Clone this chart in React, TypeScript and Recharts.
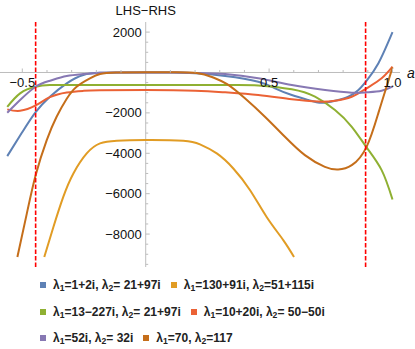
import React from 'react';
import { LineChart, Line, XAxis, YAxis, ReferenceLine, ReferenceDot } from 'recharts';

// ---- data (a, LHS-RHS) ----
const blue: number[][] = [
  [-0.561, -4140], [-0.5, -2950], [-0.446, -1960], [-0.388, -1200], [-0.32, -536], [-0.253, -124],
  [-0.185, -15], [-0.1, 0], [0, 0], [0.1, -5], [0.2, -40], [0.322, -174], [0.456, -456], [0.524, -784],
  [0.592, -1116], [0.659, -1364], [0.713, -1498], [0.767, -1398], [0.821, -1200], [0.862, -868],
  [0.895, -407], [0.943, 456], [1.0, 1994],
];
const yellow: number[][] = [
  [-0.411, -9136], [-0.374, -7650], [-0.334, -6160], [-0.293, -5000], [-0.239, -4008], [-0.185, -3512],
  [-0.117, -3382], [0, -3348], [0.152, -3382], [0.22, -3560], [0.288, -4008], [0.355, -4752],
  [0.423, -5828], [0.49, -7152], [0.558, -8308], [0.601, -9136],
];
const green: number[][] = [
  [-0.561, -1700], [-0.509, -1032], [-0.446, -704], [-0.388, -625], [-0.3, -620], [0, -620], [0.322, -620],
  [0.456, -640], [0.592, -833], [0.686, -1200], [0.767, -1860], [0.835, -2688], [0.895, -3710],
  [0.956, -4836], [1.0, -6290],
];
const red: number[][] = [
  [-0.561, -1825], [-0.509, -1895], [-0.446, -1630], [-0.388, -1220], [-0.32, -990], [-0.253, -910],
  [-0.185, -880], [0, -868], [0.2, -900], [0.322, -982], [0.456, -1116], [0.592, -1329], [0.7, -1440],
  [0.767, -1398], [0.835, -1200], [0.895, -784], [0.956, -288], [1.0, 288],
];
const purple: number[][] = [
  [-0.561, -1994], [-0.509, -1364], [-0.446, -704], [-0.388, -407], [-0.32, -174], [-0.253, -74],
  [-0.185, -10], [-0.1, 0], [0, 0], [0.1, 0], [0.2, -20], [0.322, -74], [0.456, -288], [0.592, -620],
  [0.727, -868], [0.835, -1000], [0.895, -980], [0.956, -900], [1.0, -700],
];
const brown: number[][] = [
  [-0.52, -9136], [-0.482, -7000], [-0.446, -5084], [-0.401, -3348], [-0.361, -2192], [-0.32, -1300],
  [-0.28, -704], [-0.226, -288], [-0.185, -74], [-0.12, 0], [0, 15], [0.1, 15], [0.207, -20],
  [0.274, -250], [0.33, -580], [0.402, -1280], [0.483, -2192], [0.564, -3184], [0.645, -4092],
  [0.726, -4672], [0.78, -4800], [0.835, -4588], [0.895, -3680], [0.943, -2000], [0.976, -700],
  [1.0, 250],
];

const seriesData = [blue, yellow, green, red, purple, brown];
const colors = ['#5E81B5', '#E19C24', '#8FB032', '#EB6235', '#8778B3', '#C56E1A'];
const lambda1 = ['1+2i', '130+91i', '13\u2212227i', '10+20i', '52i', '70'];
const lambda2 = [' 21+97i', '51+115i', ' 21+97i', ' 50\u221250i', ' 32i', '117'];

const xMajor = [-0.5, 0.5, 1.0];
const xMajorLabels = ['\u22120.5', '0.5', '1.0'];
const xMinor = [-0.4, -0.3, -0.2, -0.1, 0.1, 0.2, 0.3, 0.4, 0.6, 0.7, 0.8, 0.9];
const yMajor = [2000, -2000, -4000, -6000, -8000];
const yMajorLabels = ['2000', '\u22122000', '\u22124000', '\u22126000', '\u22128000'];
const yMinor = [1500, 1000, 500, -500, -1000, -1500, -2500, -3000, -3500, -4500, -5000, -5500,
  -6500, -7000, -7500, -8500, -9000, -9500];
const markerLines = [-0.446, 0.891];

const xDomain = [-0.5904, 1.0304];
const yDomain = [-9630, 2500];

const FONT = "'Liberation Sans', Arial, Helvetica, sans-serif";
const AXIS = '#bdbdbd';
const MARKER = '#ff0000';

const toPts = (arr: number[][]) => arr.map(([a, v]) => ({ a, v }));

const XTick = (p: any, major: boolean, label?: string) => (
  <g>
    <line x1={p.cx} x2={p.cx} y1={p.cy} y2={p.cy - (major ? 4 : 2.5)} stroke={AXIS} strokeWidth={1} />
    {label ? (
      <text x={p.cx} y={p.cy + 14.5} textAnchor="middle" fontFamily={FONT} fontSize={13} fill="#111">
        {label}
      </text>
    ) : null}
  </g>
);

const YTick = (p: any, major: boolean, label?: string) => (
  <g>
    <line x1={p.cx} x2={p.cx + (major ? 4 : 2.5)} y1={p.cy} y2={p.cy} stroke={AXIS} strokeWidth={1} />
    {label ? (
      <text x={p.cx - 4} y={p.cy + 4.6} textAnchor="end" fontFamily={FONT} fontSize={13} fill="#111">
        {label}
      </text>
    ) : null}
  </g>
);

const DashedMarker = (p: any) => (
  <line
    x1={p.x1}
    y1={p.y1}
    x2={p.x2}
    y2={p.y2}
    stroke={MARKER}
    style={{ stroke: MARKER }}
    strokeWidth={1.6}
    strokeDasharray="4.5 2"
    fill="none"
  />
);

const subStyle = { fontSize: '0.72em', verticalAlign: '-0.25em', lineHeight: 0 } as const;

const LegendItem = ({ i }: { i: number }) => (
  <span style={{ display: 'inline-flex', alignItems: 'center', marginRight: 10 }}>
    <span style={{ display: 'inline-block', width: 6, height: 6, background: colors[i], marginRight: 7 }} />
    <span>
      {'\u03bb'}<sub style={subStyle}>1</sub>
      {'=' + lambda1[i] + ', \u03bb'}
      <sub style={subStyle}>2</sub>
      {'=' + lambda2[i]}
    </span>
  </span>
);

export default function App() {
  return (
    <div style={{ position: 'absolute', left: 0, top: 0, width: 415, height: 349, background: '#fff' }}>
      <LineChart width={415} height={349} margin={{ top: 22, right: 15, bottom: 82, left: 0 }}>
        <XAxis dataKey="a" type="number" domain={xDomain} allowDataOverflow hide />
        <YAxis type="number" domain={yDomain} allowDataOverflow hide />
        <ReferenceLine
          y={0}
          stroke={AXIS}
          strokeWidth={1}
          label={{
            content: (lp: any) => (
              <text
                x={lp.viewBox.x + lp.viewBox.width + 7}
                y={lp.viewBox.y + 6}
                fontFamily={FONT}
                fontSize={14}
                fontStyle="italic"
                fill="#111"
              >
                a
              </text>
            ),
          }}
        />
        <ReferenceLine
          x={0}
          stroke={AXIS}
          strokeWidth={1}
          label={{
            content: (lp: any) => (
              <text
                x={lp.viewBox.x}
                y={lp.viewBox.y - 7}
                textAnchor="middle"
                fontFamily={FONT}
                fontSize={13}
                fill="#111"
              >
                LHS{'\u2212'}RHS
              </text>
            ),
          }}
        />
        {xMinor.map((x) => (
          <ReferenceDot key={'xm' + x} x={x} y={0} shape={(p: any) => XTick(p, false)} />
        ))}
        {xMajor.map((x, i) => (
          <ReferenceDot key={'xM' + x} x={x} y={0} shape={(p: any) => XTick(p, true, xMajorLabels[i])} />
        ))}
        {yMinor.map((y) => (
          <ReferenceDot key={'ym' + y} x={0} y={y} shape={(p: any) => YTick(p, false)} />
        ))}
        {yMajor.map((y, i) => (
          <ReferenceDot key={'yM' + y} x={0} y={y} shape={(p: any) => YTick(p, true, yMajorLabels[i])} />
        ))}
        {seriesData.map((s, i) => (
          <Line
            key={'s' + i}
            data={toPts(s)}
            dataKey="v"
            type="natural"
            stroke={colors[i]}
            strokeWidth={2}
            dot={false}
            activeDot={false}
            isAnimationActive={false}
            name={'\u03bb\u2081=' + lambda1[i] + ', \u03bb\u2082=' + lambda2[i]}
          />
        ))}
        {markerLines.map((x) => (
          <ReferenceLine key={'r' + x} x={x} stroke={MARKER} shape={DashedMarker} />
        ))}
      </LineChart>
      <div
        style={{
          position: 'absolute',
          left: 40,
          top: 272,
          fontFamily: FONT,
          fontWeight: 'bold',
          fontSize: 12,
          color: '#222',
        }}
      >
        {[[0, 1], [2, 3], [4, 5]].map((row, r) => (
          <div key={r} style={{ height: 26.5, display: 'flex', alignItems: 'center', whiteSpace: 'pre' }}>
            {row.map((i) => (
              <LegendItem key={i} i={i} />
            ))}
          </div>
        ))}
      </div>
    </div>
  );
}
